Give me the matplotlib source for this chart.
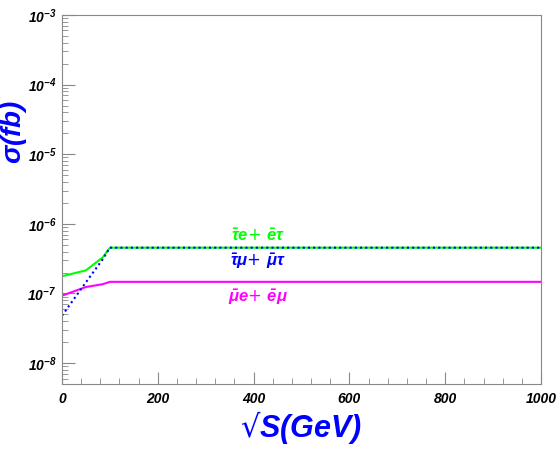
import numpy as np
import matplotlib.pyplot as plt
from matplotlib.ticker import LogLocator, MultipleLocator, FuncFormatter

plt.rcParams['mathtext.fontset'] = 'custom'
plt.rcParams['mathtext.rm'] = 'Liberation Sans:italic:bold'
plt.rcParams['mathtext.it'] = 'Liberation Sans:italic:bold'
plt.rcParams['mathtext.bf'] = 'Liberation Sans:italic:bold'

# Datos
sqrt_s = [0, 50, 85, 100, 200, 400, 600, 800, 1000]
sigma_te = [1.77e-7, 2.15e-7, 3.3e-7, 4.55e-7, 4.55e-7, 4.55e-7, 4.55e-7, 4.55e-7, 4.55e-7]
sigma_tm = [4.8e-8, 1.45e-7, 3.1e-7, 4.55e-7, 4.55e-7, 4.55e-7, 4.55e-7, 4.55e-7, 4.55e-7]
sigma_me = [9.3e-8, 1.24e-7, 1.36e-7, 1.47e-7, 1.47e-7, 1.47e-7, 1.47e-7, 1.47e-7, 1.47e-7]

labels = [r'$\bar{\tau}e$+ $\bar{e}\tau$', r'$\bar{\tau}\mu$+ $\bar{\mu}\tau$', r'$\bar{\mu}e$+ $\bar{e}\mu$']

fig = plt.figure(figsize=(5.59, 4.5), dpi=100)
ax = fig.add_axes([62 / 559, 1 - 384 / 450, (541 - 62) / 559, (384 - 15) / 450])

ax.plot(sqrt_s, sigma_te, color='#00ff00', lw=1.5)
ax.plot(sqrt_s, sigma_me, color='#ff00ff', lw=1.5)
ax.plot(sqrt_s, sigma_tm, color='#0000ff', lw=1.5, ls=(0, (1, 1.5)))

ax.set_yscale('log')
ax.set_xlim(0, 1000)
ax.set_ylim(10 ** -8.3, 1e-3)

ax.xaxis.set_major_locator(MultipleLocator(200))
ax.xaxis.set_minor_locator(MultipleLocator(40))
ax.yaxis.set_major_locator(LogLocator(base=10, numticks=20))
ax.yaxis.set_minor_locator(LogLocator(base=10, subs=np.arange(2, 10), numticks=20))
ax.yaxis.set_major_formatter(FuncFormatter(lambda v, p: r'$10^{%d}$' % round(np.log10(v))))
ax.xaxis.set_major_formatter(FuncFormatter(lambda v, p: '%d' % v))

ax.tick_params(which='both', direction='in', top=False, right=False, color='#888888')
ax.tick_params(which='major', length=9)
ax.tick_params(which='minor', length=4.5)
ax.tick_params(axis='x', labelsize=10, pad=6)
ax.tick_params(axis='y', labelsize=10, pad=4)
for lab in ax.get_xticklabels():
    lab.set_fontfamily('Liberation Sans')
    lab.set_fontstyle('italic')
    lab.set_fontweight('bold')
for sp in ax.spines.values():
    sp.set_color('#888888')

ax.text(409, 6.6e-7, labels[0], color='#00ff00', fontsize=12, ha='center', va='center')
ax.text(409, 2.9e-7, labels[1], color='#0000ff', fontsize=12, ha='center', va='center')
ax.text(409, 8.8e-8, labels[2], color='#ff00ff', fontsize=12, ha='center', va='center')

fig.text(14 / 559, 1 - 132 / 450, r'$\sigma(fb)$', color='#0000ff', fontsize=20,
         rotation=90, ha='center', va='center')
fig.text(301 / 559, 1 - 428 / 450, '\u221a$S(GeV)$', color='#0000ff', fontsize=22,
         ha='center', va='center')

fig.savefig('out.png', dpi=100)
